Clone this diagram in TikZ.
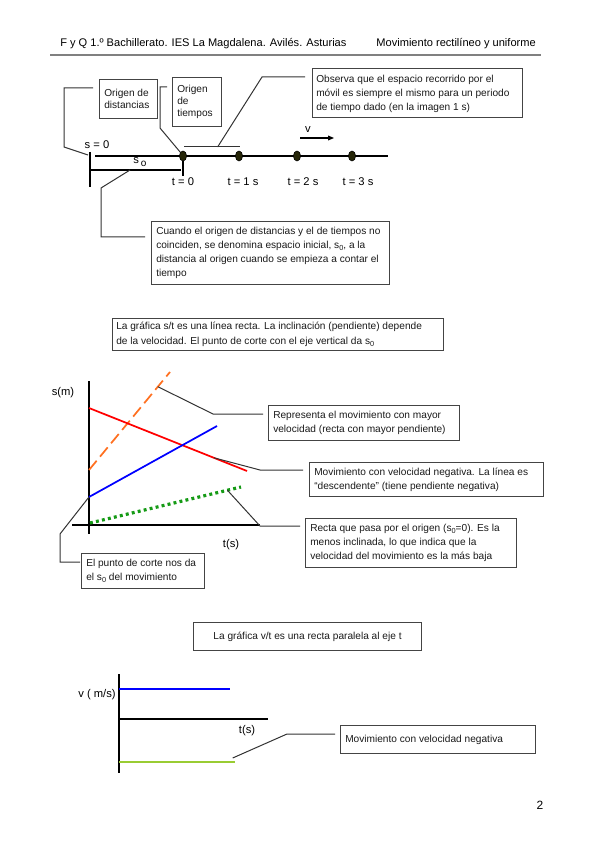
\documentclass[tikz,border=0pt]{standalone}
\usepackage{fontspec}
\setmainfont{Liberation Sans}
\usetikzlibrary{calc,shapes.geometric,arrows.meta}
\definecolor{boxline}{HTML}{444444}
\definecolor{callout}{HTML}{333333}
\definecolor{dotfill}{HTML}{262608}
\definecolor{orangeL}{HTML}{FF7020}
\definecolor{greenD}{HTML}{159A15}
\definecolor{limeL}{HTML}{99CC33}
\newcommand\lowsub[1]{\raisebox{-0.45ex}{\fontsize{5.5}{6}\selectfont #1}}
\newcommand\biglowsub[1]{\raisebox{-0.4ex}{\fontsize{7.5}{8}\selectfont #1}}
\tikzset{
  x=0.75pt, y=-0.75pt,
  boxnode/.style={draw=boxline, line width=0.8pt, inner sep=0pt, anchor=north west},
  boxtext/.style={anchor=west, align=left, inner sep=0pt, text=black!90, font=\fontsize{7.6}{10.6}\selectfont},
  lbl/.style={inner sep=0pt, font=\fontsize{8.4}{10}\selectfont},
  co/.style={draw=callout, line width=0.75pt},
  axis/.style={line width=1.2pt, black},
  tdot/.style={ellipse, draw=black, fill=dotfill, line width=0.4pt, minimum width=5.4pt, minimum height=7.6pt, inner sep=0pt}
}
\begin{document}
\begin{tikzpicture}
\path[use as bounding box] (0,0) rectangle (599,848);
% header
\node[lbl, anchor=base west, font=\fontsize{8.3}{10}\selectfont] (h1) at (60,47) {F y Q 1.º Bachillerato. IES La Magdalena. Avilés. Asturias};
\node[lbl, anchor=base east, font=\fontsize{8.3}{10}\selectfont] (h2) at (536,47) {Movimiento rectilíneo y uniforme};
\draw[gray, line width=0.8pt] (50,55) -- (541,55);

% ---------- top diagram ----------
\coordinate (ls) at (95,156);
\coordinate (le) at (388,156);
\draw[line width=1.2pt] (ls) -- (le);
\draw[line width=0.9pt] (90,152) -- (90,187);
\coordinate (s0a) at (90,170);
\coordinate (s0b) at (181,170);
\draw[line width=0.9pt] (s0a) -- (s0b);
\node[tdot] (d0) at (183,156) {};
\node[tdot] (d1) at (239,156) {};
\node[tdot] (d2) at (297,156) {};
\node[tdot] (d3) at (352,156) {};
\draw[line width=0.9pt] (d0.south) -- (183,176);
\node[lbl] (s0lab) at (97,145) {s = 0};
\node[lbl] (s0txt) at (140,162) {s\,\biglowsub{o}};
\node[lbl] (t0) at (183,182) {t = 0};
\node[lbl] (t1) at (243,182) {t = 1 s};
\node[lbl] (t2) at (303,182) {t = 2 s};
\node[lbl] (t3) at (358,182) {t = 3 s};
\node[lbl] (vlab) at (308,130) {v};
\coordinate (va) at (300,138);
\coordinate (vb) at (334,138);
\draw[line width=0.8pt, -{Triangle[length=4.5pt,width=3.6pt]}] (va) -- (vb);
% bracket between t=0 and t=1
\coordinate (bra) at (184,147);
\coordinate (brb) at (240,147);
\draw[co] (bra) -- (brb);

% boxes top
\node[boxnode, minimum width=43.5pt, minimum height=29.25pt] (b1) at (99,79) {};
\node[boxtext, font=\fontsize{7.6}{9}\selectfont] (b1t) at ($(b1.west)+(5,0)$) {Origen de\\distancias};
\node[boxnode, minimum width=36.75pt, minimum height=36.75pt] (b2) at (172,77) {};
\node[boxtext, font=\fontsize{7.6}{9}\selectfont] (b2t) at ($(b2.west)+(5,0)$) {Origen\\de\\tiempos};
\node[boxnode, minimum width=157.5pt, minimum height=36.75pt] (b3) at (312,68) {};
\node[boxtext] (b3t) at ($(b3.west)+(4,1)$) {Observa que el espacio recorrido por el\\móvil es siempre el mismo para un periodo\\de tiempo dado (en la imagen 1 s)};
\node[boxnode, minimum width=178.5pt, minimum height=47.25pt] (b4) at (151,221) {};
\node[boxtext] (b4t) at ($(b4.west)+(5,0)$) {Cuando el origen de distancias y el de tiempos no\\coinciden, se denomina espacio inicial, s\lowsub{0}, a la\\distancia al origen cuando se empieza a contar el\\tiempo};

% callouts top
\draw[co] ($(b1.north west)+(-6,9)$) -- (64,88) -- (64,147) -- (88,155);
\draw[co] ($(b2.north west)+(-5,10)$) -- (160,87) -- (160,128) -- (d0.north west);
\draw[co] ($(b3.north west)+(-7,9)$) -- (262,77) -- ($(bra)!0.6!(brb)$);
\draw[co] ($(s0a)!0.44!(s0b)$) -- (101,188) -- (101,237) -- ($(b4.north west)+(-6,16)$);

% ---------- s/t graph ----------
\node[boxnode, minimum width=248.25pt, minimum height=24pt] (b5) at (112,318) {};
\node[boxtext] (b5t) at ($(b5.west)+(4,0)$) {La gráfica s/t es una línea recta. La inclinación (pendiente) depende\\de la velocidad. El punto de corte con el eje vertical da s\lowsub{0}};

\coordinate (o1) at (89,525);
\draw[axis] (89,381) -- (89,534);
\draw[axis] (72,525) -- (260,525);
\node[lbl] (sm) at (63,393) {s(m)};
\node[lbl] (ts1) at (231,545) {t(s)};
\coordinate (oa) at (89,470);  \coordinate (ob) at (170,372);
\coordinate (ra) at (89,408);  \coordinate (rb) at (247,471);
\coordinate (ba) at (89,497);  \coordinate (bb) at (217,426);
\coordinate (ga) at (90,523);  \coordinate (gb) at (241,487);
\draw[orangeL, line width=1.3pt, dash pattern=on 9pt off 4pt] (oa) -- (ob);
\draw[red, line width=1.3pt] (ra) -- (rb);
\draw[blue, line width=1.3pt] (ba) -- (bb);
\draw[greenD, line width=2.4pt, dash pattern=on 2.2pt off 2.4pt] (ga) -- (gb);

\node[boxnode, minimum width=143.25pt, minimum height=26.25pt] (b6) at (268,405) {};
\node[boxtext] (b6t) at ($(b6.west)+(5,0)$) {Representa el movimiento con mayor\\velocidad (recta con mayor pendiente)};
\node[boxnode, minimum width=175.5pt, minimum height=25.5pt] (b7) at (309,462) {};
\node[boxtext] (b7t) at ($(b7.west)+(5,0)$) {Movimiento con velocidad negativa. La línea es\\“descendente” (tiene pendiente negativa)};
\node[boxnode, minimum width=158.25pt, minimum height=36.75pt] (b8) at (305,518) {};
\node[boxtext] (b8t) at ($(b8.west)+(5,0)$) {Recta que pasa por el origen (s\lowsub{0}=0). Es la\\menos inclinada, lo que indica que la\\velocidad del movimiento es la más baja};
\node[boxnode, minimum width=92.25pt, minimum height=26.25pt] (b9) at (81,553) {};
\node[boxtext] (b9t) at ($(b9.west)+(5,0)$) {El punto de corte nos da\\el s\lowsub{0} del movimiento};

\draw[co] ($(oa)!0.85!(ob)$) -- (213,414) -- ($(b6.north west)+(-5,9)$);
\draw[co] ($(ra)!0.79!(rb)$) -- (260,470) -- ($(b7.north west)+(-6,8)$);
\draw[co] ($(ga)!0.91!(gb)$) -- (260,526) -- ($(b8.north west)+(-5,8)$);
\draw[co] (ba) -- (60,534) -- (60,562) -- ($(b9.north west)+(-1,9)$);

% ---------- v/t graph ----------
\node[boxnode, minimum width=171pt, minimum height=21pt] (b10) at (193,622) {};
\node[boxtext] (b10t) at (b10.center) [anchor=center] {La gráfica v/t es una recta paralela al eje t};
\draw[axis] (119,674) -- (119,773);
\draw[axis] (119,719) -- (268,719);
\node[lbl] (vms) at (97,695) {v ( m/s)};
\node[lbl] (ts2) at (247,731) {t(s)};
\coordinate (bla) at (119,689); \coordinate (blb) at (230,689);
\coordinate (gra) at (119,762); \coordinate (grb) at (235,762);
\draw[blue, line width=1.3pt] (bla) -- (blb);
\draw[limeL, line width=1.8pt] (gra) -- (grb);
\node[boxnode, minimum width=146.25pt, minimum height=21pt] (b11) at (340,725) {};
\node[boxtext] (b11t) at ($(b11.west)+(5,0)$) {Movimiento con velocidad negativa};
\draw[co] ($(gra)!0.98!(grb)+(0,-4)$) -- (287,734) -- ($(b11.north west)+(-5,9)$);

\node[lbl, font=\fontsize{9}{10}\selectfont] (pg) at (540,805) {2};
\end{tikzpicture}
\end{document}
